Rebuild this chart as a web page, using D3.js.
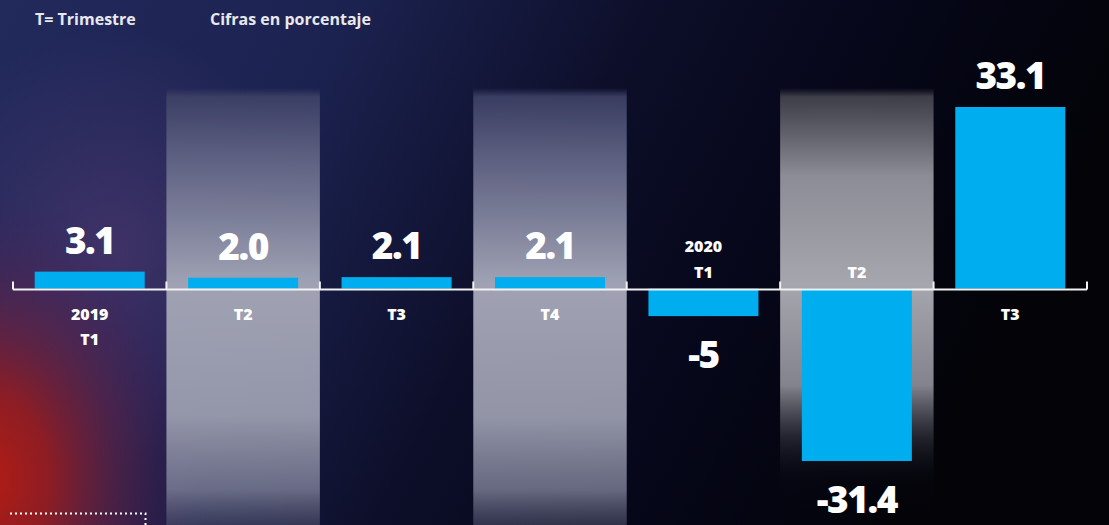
<!DOCTYPE html>
<html>
<head>
<meta charset="utf-8">
<script src="https://cdn.jsdelivr.net/npm/d3@7"></script>
<style>
  html, body { margin: 0; padding: 0; background: #0a0c22; }
  svg { display: block; }
</style>
</head>
<body>
<svg id="chart" width="1109" height="525"></svg>
<script>
// data
var quarters = ["T1", "T2", "T3", "T4", "T1", "T2", "T3"];
var years = ["2019", "", "", "", "2020", "", ""];
var values = [3.1, 2.0, 2.1, 2.1, -5, -31.4, 33.1];
var valueLabels = ["3.1", "2.0", "2.1", "2.1", "-5", "-31.4", "33.1"];
var litColumns = [1, 3, 5];   // columns with the grey glow behind them

var W = 1109, H = 525;
var svg = d3.select("#chart");
var defs = svg.append("defs");

var data = values.map(function(v, i) {
    return { id: i, q: quarters[i], year: years[i], value: v, label: valueLabels[i] };
});

var x = d3.scaleBand()
    .domain(data.map(function(d) { return d.id; }))
    .range([13, 1087])
    .paddingInner(0.283)
    .paddingOuter(0.1415);

var y = d3.scaleLinear()
    .domain([-31.4, 33.1])
    .range([461, 107]);

var step = x.step();
function colLeft(i) { return x(i) - step * x.paddingInner() / 2; }

function addStops(grad, stops) {
    stops.forEach(function(s) {
        grad.append("stop").attr("offset", s[0]).attr("stop-color", s[1])
            .attr("stop-opacity", s[2] == null ? 1 : s[2]);
    });
}

// ---- background ----
var bg = defs.append("linearGradient").attr("id", "bgGrad")
    .attr("x1", 0).attr("y1", 0).attr("x2", 1).attr("y2", 0.25);
addStops(bg, [["0%", "#222a5c"], ["30%", "#1c2250"], ["55%", "#0d0f2a"], ["75%", "#06071a"], ["100%", "#030308"]]);

var red = defs.append("radialGradient").attr("id", "redGlow");
addStops(red, [["0%", "#b81c12", 1], ["30%", "#9a1c1e", 0.9], ["60%", "#6a2040", 0.55], ["100%", "#3a2060", 0]]);

var purple = defs.append("radialGradient").attr("id", "purpleGlow");
addStops(purple, [["0%", "#523a72", 0.65], ["100%", "#4e3a74", 0]]);

svg.append("rect").attr("width", W).attr("height", H).attr("fill", "url(#bgGrad)");
svg.append("ellipse").attr("cx", 110).attr("cy", 250).attr("rx", 200).attr("ry", 220)
    .attr("fill", "url(#purpleGlow)");
svg.append("ellipse").attr("cx", -20).attr("cy", 480).attr("rx", 230).attr("ry", 290)
    .attr("fill", "url(#redGlow)");

// grey glow columns, gradients in page units so the fades sit where they should
var grey = defs.append("linearGradient").attr("id", "greyCol")
    .attr("gradientUnits", "userSpaceOnUse")
    .attr("x1", 0).attr("y1", 88).attr("x2", 0).attr("y2", 525);
addStops(grey, [
    [0, "#3a3e62", 0], [0.02, "#3e4266", 0.9], [0.15, "#5e6182", 0.95],
    [0.45, "#a0a2b4", 1], [0.75, "#9a9cae", 0.95], [0.92, "#7e8098", 0.8], [1, "#5a5c78", 0.5]]);

var greyLast = defs.append("linearGradient").attr("id", "greyLast")
    .attr("gradientUnits", "userSpaceOnUse")
    .attr("x1", 0).attr("y1", 88).attr("x2", 0).attr("y2", 525);
addStops(greyLast, [
    [0, "#3a3a44", 0], [0.02, "#44444e", 0.9], [0.2, "#8c8c96", 1],
    [0.45, "#a6a6ae", 1], [0.68, "#8a8a94", 0.95], [0.8, "#30303c", 0.7], [0.9, "#0a0a16", 0.2], [1, "#05050e", 0]]);

svg.append("g").selectAll("rect")
    .data(litColumns)
    .join("rect")
    .attr("x", function(i) { return colLeft(i); })
    .attr("y", 88)
    .attr("width", step)
    .attr("height", H - 88)
    .attr("fill", function(i) { return i === 5 ? "url(#greyLast)" : "url(#greyCol)"; });

// ---- bars ----
svg.append("g").selectAll("rect")
    .data(data)
    .join("rect")
    .attr("x", function(d) { return x(d.id); })
    .attr("width", x.bandwidth())
    .attr("y", function(d) { return Math.min(y(d.value), y(0)); })
    .attr("height", function(d) { return Math.abs(y(d.value) - y(0)); })
    .attr("fill", "#00aeef");

// ---- axis ----
var y0 = Math.round(y(0)) + 0.5;
var axisG = svg.append("g").attr("stroke", "#f2f2f2").attr("stroke-width", 2);
axisG.append("line")
    .attr("x1", x.range()[0]).attr("x2", x.range()[1])
    .attr("y1", y0).attr("y2", y0);
var bounds = d3.range(data.length + 1).map(function(i) { return i < data.length ? colLeft(i) : x.range()[1]; });
axisG.selectAll("line.tick")
    .data(bounds)
    .join("line")
    .attr("class", "tick")
    .attr("x1", function(d) { return d; }).attr("x2", function(d) { return d; })
    .attr("y1", y0).attr("y2", y0 - 8);

// ---- value labels ----
svg.append("g").selectAll("text")
    .data(data)
    .join("text")
    .attr("x", function(d) { return x(d.id) + x.bandwidth() / 2; })
    .attr("y", function(d) { return d.value >= 0 ? y(d.value) - 18 : y(d.value) + 52; })
    .attr("text-anchor", "middle")
    .attr("fill", "#ffffff")
    .style("font-family", "'Open Sans', sans-serif")
    .style("font-weight", 800)
    .style("font-size", "37px")
    .style("letter-spacing", "-1.5px")
    .text(function(d) { return d.label; });

// ---- category labels ----
var catG = svg.append("g")
    .style("font-family", "'Open Sans', sans-serif")
    .style("font-weight", 800)
    .style("font-size", "16px")
    .attr("fill", "#ffffff")
    .attr("text-anchor", "middle");

catG.selectAll("text.q")
    .data(data)
    .join("text")
    .attr("class", "q")
    .attr("x", function(d) { return x(d.id) + x.bandwidth() / 2; })
    .attr("y", function(d) {
        if (d.value >= 0) return d.year ? y(0) + 56 : y(0) + 31;
        return y(0) - 11;
    })
    .text(function(d) { return d.q; });

catG.selectAll("text.yr")
    .data(data.filter(function(d) { return d.year; }))
    .join("text")
    .attr("class", "yr")
    .attr("x", function(d) { return x(d.id) + x.bandwidth() / 2; })
    .attr("y", function(d) { return d.value >= 0 ? y(0) + 31 : y(0) - 37; })
    .text(function(d) { return d.year; });

// ---- header notes ----
var notes = svg.append("g")
    .style("font-family", "'Open Sans', sans-serif")
    .style("font-weight", 700)
    .style("font-size", "16px")
    .attr("fill", "#e8e8ee");
notes.append("text").attr("x", 35).attr("y", 25).text("T= Trimestre");
notes.append("text").attr("x", 210).attr("y", 25).text("Cifras en porcentaje");

// dotted corner mark
svg.append("path")
    .attr("d", "M10,513.5 H145.5 V525")
    .attr("fill", "none")
    .attr("stroke", "#ffffff")
    .attr("stroke-width", 2)
    .attr("stroke-dasharray", "2,3");
</script>
</body>
</html>
